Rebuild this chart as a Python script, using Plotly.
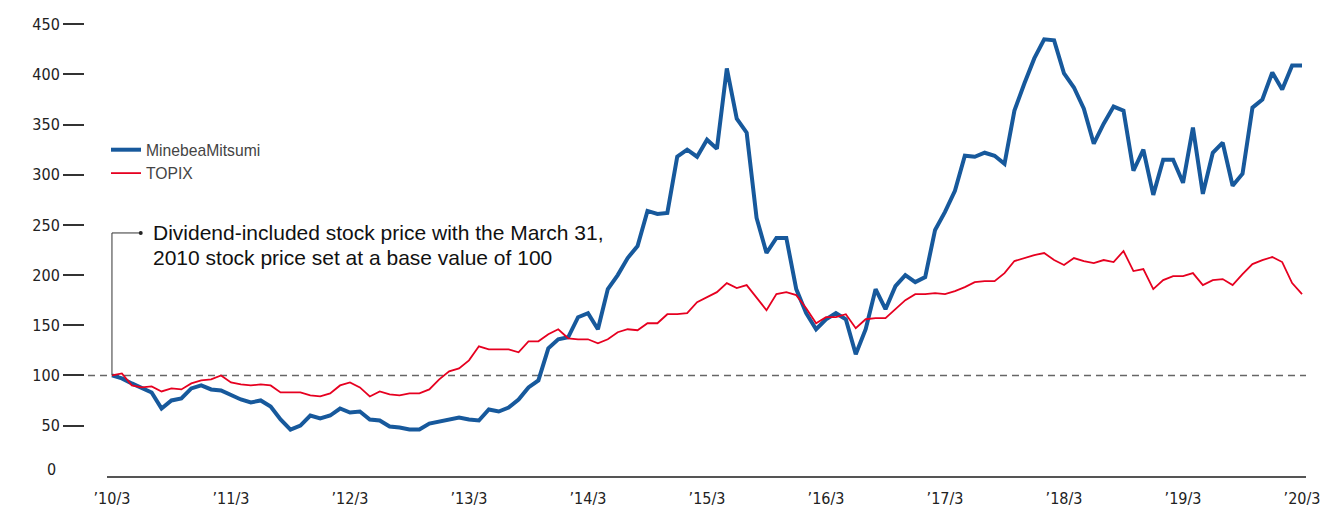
import plotly.graph_objects as go

# ---- data (monthly, Mar 2010 = 100) ----
months = list(range(121))  # 0 = 2010/3 ... 120 = 2020/3
minebea = [100, 97, 92, 87, 83, 67, 75, 77, 87, 90, 86, 85,
           80, 76, 73, 75, 69, 56, 46, 50, 60, 57, 60, 67,
           63, 64, 56, 55, 49, 48, 46, 46, 52, 54, 55, 58,
           56, 55, 66, 64, 68, 76, 88, 95, 127, 136, 138, 158,
           162, 146, 186, 200, 217, 229, 264, 261, 262, 318, 325, 318,
           335, 326, 406, 356, 342, 257, 222, 237, 237, 186, 162, 146,
           156, 162, 156, 121, 146, 186, 166, 189, 200, 193, 198, 245,
           263, 284, 319, 318, 322, 319, 311, 364, 391, 416, 435, 434,
           401, 387, 366, 331, 351, 368, 364, 304, 325, 280, 315, 315,
           292, 347, 281, 322, 332, 289, 301, 367, 375, 402, 385, 409,
           409]
topix = [100, 102, 90, 88, 89, 84, 87, 86, 92, 95, 96, 100,
         93, 91, 90, 91, 90, 83, 83, 83, 80, 79, 82, 90,
         93, 88, 79, 84, 81, 80, 82, 82, 86, 96, 104, 107,
         115, 129, 126, 126, 126, 123, 134, 134, 141, 146, 137, 136,
         136, 132, 136, 143, 146, 145, 152, 152, 161, 161, 162, 173,
         178, 183, 192, 187, 190, 177, 165, 181, 183, 180, 167, 152,
         158, 158, 161, 147, 156, 157, 157, 166, 175, 181, 181, 182,
         181, 184, 188, 193, 194, 194, 202, 214, 217, 220, 222, 215,
         210, 217, 214, 212, 215, 213, 224, 204, 206, 186, 195, 199,
         199, 202, 190, 195, 196, 190, 201, 211, 215, 218, 213, 192,
         181]
tick_months = [0, 12, 24, 36, 48, 60, 72, 84, 96, 108, 120]
tick_labels = ["\u201910/3", "\u201911/3", "\u201912/3", "\u201913/3", "\u201914/3",
               "\u201915/3", "\u201916/3", "\u201917/3", "\u201918/3", "\u201919/3", "\u201920/3"]
y_ticks = [50, 100, 150, 200, 250, 300, 350, 400, 450]
BASE_VALUE = 100
note_lines = ["Dividend-included stock price with the March 31,",
              "2010 stock price set at a base value of 100"]
callout_top = 242
callout_end = 2.9

BLUE = "#17599c"
RED = "#e60020"
NARROW = "Liberation Sans Narrow, DejaVu Sans Condensed, Arial Narrow, sans-serif"
SANS = "Liberation Sans, Arial, Helvetica, sans-serif"

W, H = 1344, 507

fig = go.Figure()
fig.add_trace(go.Scatter(x=months, y=minebea, mode="lines", name="MinebeaMitsumi",
                         line=dict(color=BLUE, width=4), hoverinfo="x+y"))
fig.add_trace(go.Scatter(x=months, y=topix, mode="lines", name="TOPIX",
                         line=dict(color=RED, width=1.8), hoverinfo="x+y"))
# callout end dot
fig.add_trace(go.Scatter(x=[callout_end], y=[callout_top], mode="markers",
                         marker=dict(color="#222", size=4), showlegend=False,
                         hoverinfo="skip"))

# base-value dashed line
fig.add_shape(type="line", xref="paper", yref="y", x0=88 / W, x1=1306 / W,
              y0=BASE_VALUE, y1=BASE_VALUE,
              line=dict(color="#666", width=1.5, dash="7px,5px"), layer="below")
# callout line
fig.add_shape(type="path", xref="x", yref="y",
              path=f"M {months[0]},{minebea[0]} L {months[0]},{callout_top} L {callout_end},{callout_top}",
              line=dict(color="#333", width=1))

for k, line_text in enumerate(note_lines):
    fig.add_annotation(xref="x", yref="y", x=3.9, y=callout_top, xanchor="left",
                       yanchor="middle", yshift=-25 * k, text=line_text, showarrow=False,
                       align="left", font=dict(family=SANS, size=21, color="#111"))
# zero label
fig.add_annotation(xref="paper", yref="y", x=58 / W, y=0, xanchor="right", yanchor="middle",
                   yshift=6, text="0", showarrow=False,
                   font=dict(family=NARROW, size=16, color="#222"))

fig.update_layout(
    width=W, height=H,
    margin=dict(l=0, r=0, t=0, b=0, pad=0, autoexpand=False),
    paper_bgcolor="white", plot_bgcolor="white",
    showlegend=True,
    legend=dict(x=106 / W, y=(H - 133) / H, xanchor="left", yanchor="top",
                font=dict(family=SANS, size=15.7, color="#444"),
                bgcolor="rgba(0,0,0,0)", tracegroupgap=0),
    xaxis=dict(domain=[107 / W, 1306 / W], range=[-0.5, 120.4], automargin=False,
               tickvals=tick_months, ticktext=tick_labels,
               showgrid=False, zeroline=False,
               showline=True, linecolor="#555", linewidth=1.5,
               ticks="outside", ticklen=7, tickcolor="rgba(0,0,0,0)",
               tickfont=dict(family=NARROW, size=16, color="#222")),
    yaxis=dict(domain=[(H - 475.7) / H, (H - 14.3) / H], range=[0, 460], automargin=False,
               anchor="free", position=84 / W,
               tickvals=y_ticks, showgrid=False, zeroline=False, showline=False,
               ticks="outside", ticklen=21, tickwidth=1.5, tickcolor="#333",
               tickfont=dict(family=NARROW, size=16, color="#222")),
)

fig.write_html("out.html", config={"displayModeBar": False},
               post_script="document.body.style.margin='0px';")
